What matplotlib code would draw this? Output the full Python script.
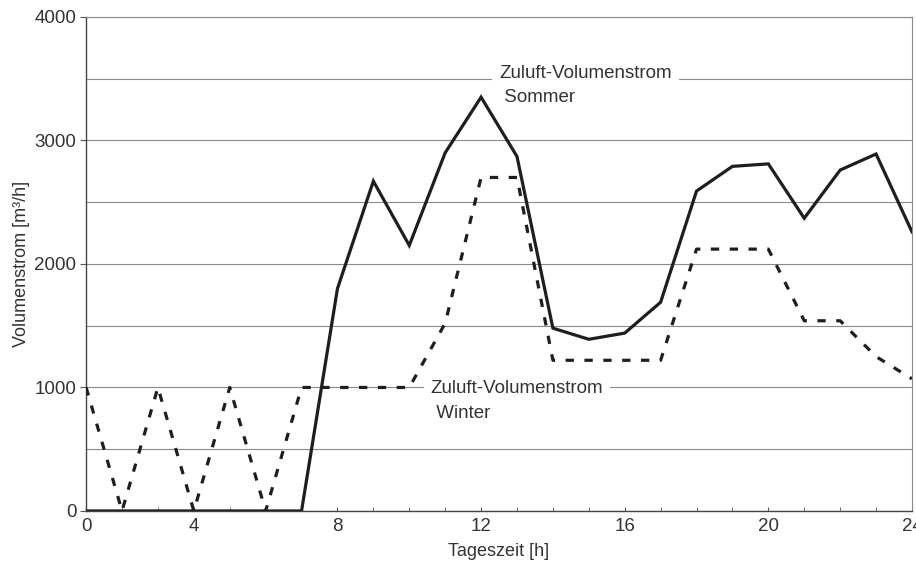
import matplotlib
matplotlib.use('Agg')
import matplotlib.pyplot as plt
from matplotlib.ticker import MultipleLocator

plt.rcParams['font.family'] = ['Liberation Sans', 'DejaVu Sans']

# Stundenwerte (Excel-Kategorien 1..24)
hours = list(range(1, 25))
sommer = [0, 0, 0, 0, 0, 0, 0, 1800, 2670, 2150, 2900, 3350,
          2870, 1480, 1390, 1440, 1690, 2590, 2790, 2810, 2370, 2760, 2890, 2260]
winter = [1000, 0, 1000, 0, 1000, 0, 1000, 1000, 1000, 1000, 1520, 2700,
          2700, 1220, 1220, 1220, 1220, 2120, 2120, 2120, 1540, 1540, 1250, 1070]

xtick_pos = [1, 4, 8, 12, 16, 20, 24]
xtick_labels = ['0', '4', '8', '12', '16', '20', '24']
yticks = [0, 1000, 2000, 3000, 4000]

txt = '#333333'
grid = '#8a8a8a'

fig = plt.figure(figsize=(9.16, 5.63), dpi=100)
ax = fig.add_axes([0.094, 0.0924, 0.9016, 0.8776])

ax.plot(hours, sommer, color='#1e1e1e', lw=2.3, zorder=4, solid_joinstyle='miter')
ax.plot(hours, winter, color='#1e1e1e', lw=2.3, zorder=4, linestyle=(0, (2.6, 3.3)))

ax.set_xlim(1, 24)
ax.set_ylim(0, 4000)
ax.set_xticks(xtick_pos)
ax.set_xticklabels(xtick_labels)
ax.xaxis.set_minor_locator(MultipleLocator(1))
ax.set_yticks(yticks)
ax.yaxis.set_minor_locator(MultipleLocator(500))

ax.grid(axis='y', which='both', color=grid, lw=0.8, zorder=1)
ax.set_axisbelow(True)

ax.tick_params(axis='x', which='both', direction='in', length=3, color='#555555',
               labelsize=13.5, labelcolor=txt, pad=5)
ax.tick_params(axis='y', which='major', direction='out', length=4, color='#555555',
               labelsize=13.5, labelcolor=txt, pad=3)
ax.tick_params(axis='y', which='minor', length=0)

for s in ['left', 'bottom']:
    ax.spines[s].set_color('#444444')
    ax.spines[s].set_linewidth(1.0)
for s in ['top', 'right']:
    ax.spines[s].set_color(grid)
    ax.spines[s].set_linewidth(0.8)

ax.set_xlabel('Tageszeit [h]', fontsize=13, color=txt, labelpad=6)
ax.set_ylabel('Volumenstrom [m³/h]', fontsize=13, color=txt, labelpad=3)

box = dict(facecolor='white', edgecolor='none', pad=5)
ax.text(12.5, 3445, 'Zuluft-Volumenstrom\n Sommer', fontsize=13.5, color=txt,
        ha='left', va='center', linespacing=1.55, bbox=box, zorder=3)
ax.text(10.6, 890, 'Zuluft-Volumenstrom\n Winter', fontsize=13.5, color=txt,
        ha='left', va='center', linespacing=1.55, bbox=box, zorder=3)

fig.savefig('out.png', dpi=100, facecolor='white')
